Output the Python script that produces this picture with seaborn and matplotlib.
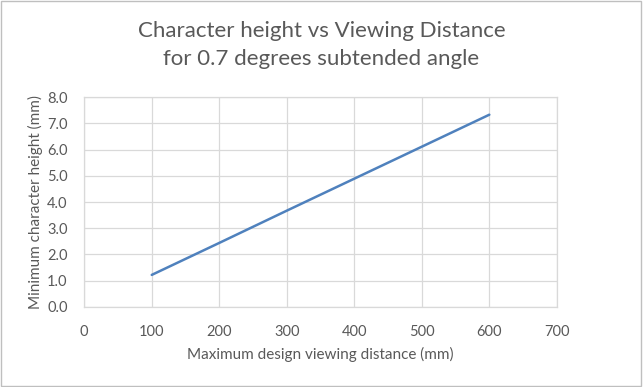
import matplotlib
matplotlib.use("Agg")
import matplotlib.pyplot as plt
import seaborn as sns
import pandas as pd
from matplotlib.patches import Rectangle

distance_mm = [100, 200, 300, 400, 500, 600]
char_height_mm = [1.22, 2.44, 3.67, 4.89, 6.11, 7.33]
x_ticks = [0, 100, 200, 300, 400, 500, 600, 700]
y_ticks = [0.0, 1.0, 2.0, 3.0, 4.0, 5.0, 6.0, 7.0, 8.0]

sns.set_theme(style="white")
plt.rcParams['font.family'] = ['Lato', 'DejaVu Sans']
grey = '#595959'

df = pd.DataFrame({"d": distance_mm, "h": char_height_mm})

fig = plt.figure(figsize=(6.43, 3.87), dpi=100)
ax = fig.add_axes([0.131, 0.207, 0.735, 0.542])
sns.lineplot(data=df, x="d", y="h", ax=ax, color='#4F81BD', linewidth=1.8)

ax.set_xlim(0, 700)
ax.set_ylim(0, 8)
ax.set_xticks(x_ticks)
ax.set_yticks(y_ticks)
ax.set_xticklabels([str(v) for v in x_ticks])
ax.set_yticklabels([f"{v:.1f}" for v in y_ticks])
ax.tick_params(axis='both', labelsize=10.5, colors=grey, length=0)
ax.tick_params(axis='x', pad=13)
ax.tick_params(axis='y', pad=12)
ax.grid(True, color='#D9D9D9', linewidth=0.9)
for s in ax.spines.values():
    s.set_color('#D9D9D9')
    s.set_linewidth(0.9)
ax.set_xlabel("Maximum design viewing distance (mm)", fontsize=11, color=grey, labelpad=6)
ax.set_ylabel("Minimum character height (mm)", fontsize=11, color=grey, labelpad=3)

fig.text(0.5, 0.921, "Character height vs Viewing Distance", ha='center', va='center',
         fontsize=16, color=grey)
fig.text(0.5, 0.847, "for 0.7 degrees subtended angle", ha='center', va='center',
         fontsize=16, color=grey)

fig.patches.append(Rectangle((0.002, 0.003), 0.995, 0.994, transform=fig.transFigure,
                             fill=False, edgecolor='#BFBFBF', linewidth=1))

fig.savefig("out.png", dpi=100)
